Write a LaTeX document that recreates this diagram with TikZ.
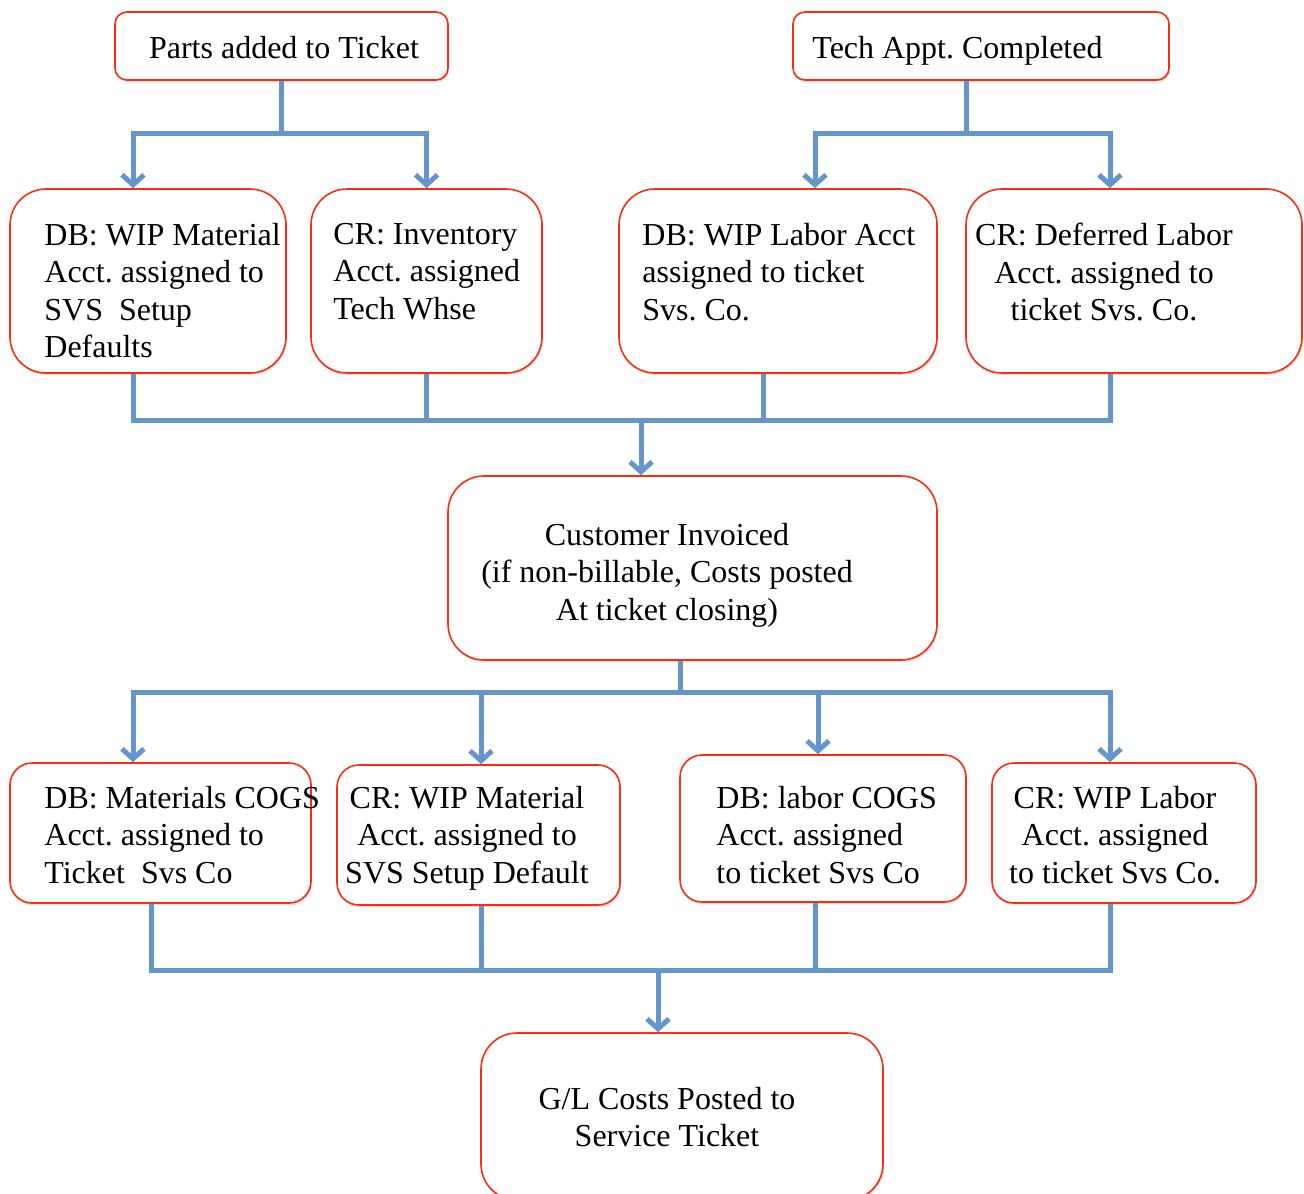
\documentclass[tikz,border=0pt]{standalone}
\usepackage{fontspec}
\setmainfont{Liberation Serif}
\usetikzlibrary{arrows.meta,shadows}
\definecolor{boxred}{RGB}{250,45,15}
\definecolor{linkblue}{RGB}{100,150,205}
\tikzset{
  box/.style={draw=boxred, line width=0.8pt, fill=white, rounded corners=#1, inner sep=0pt,
    drop shadow={shadow xshift=0.6pt, shadow yshift=-1.2pt, opacity=0.3, fill=black!40}},
  box/.default=18pt,
  txt/.style={inner sep=0pt, font=\fontsize{16}{18.8}\selectfont\frenchspacing},
  link/.style={draw=linkblue, line width=2.5pt},
  arr/.style={link, -{Straight Barb[length=5pt,width=11pt]}}
}
\begin{document}
\begin{tikzpicture}[x=0.5pt,y=-0.5pt]
  \useasboundingbox (0,0) rectangle (1304,1193);

  % top row
  \node[box=6pt, minimum width=166.5pt, minimum height=34pt] (parts) at (281.5,46) {};
  \node[box=6pt, minimum width=188pt, minimum height=34pt] (tech) at (981,46) {};
  \node[txt, anchor=north] (partst) at (284,35.5) {Parts added to Ticket};
  \node[txt, anchor=north west] (techt) at (812,35.5) {Tech Appt. Completed};

  % debit / credit on parts and labor
  \node[box, minimum width=138pt, minimum height=92pt] (b1) at (148,281) {};
  \node[box, minimum width=115.5pt, minimum height=92pt] (b2) at (426.5,281) {};
  \node[box, minimum width=159pt, minimum height=92pt] (b3) at (778,281) {};
  \node[box, minimum width=168pt, minimum height=92pt] (b4) at (1134,281) {};
  \node[txt, anchor=north west, align=left] (b1t) at (44,222.5)
    {DB: WIP Material\\Acct. assigned to\\SVS\ \ Setup\\Defaults};
  \node[txt, anchor=north west, align=left] (b2t) at (333,222.5)
    {CR: Inventory\\Acct. assigned\\Tech Whse};
  \node[txt, anchor=north west, align=left] (b3t) at (642,222.5)
    {DB: WIP Labor Acct\\assigned to ticket\\Svs. Co.};
  \node[txt, anchor=north, align=center] (b4t) at (1104,222.5)
    {CR: Deferred Labor\\Acct. assigned to\\ticket Svs. Co.};

  % invoice
  \node[box, minimum width=244.5pt, minimum height=92pt] (inv) at (692.5,568) {};
  \node[txt, anchor=north, align=center] (invt) at (667,522.5)
    {Customer Invoiced\\(if non-billable, Costs posted\\At ticket closing)};

  % debit / credit on invoicing
  \node[box=11pt, minimum width=150.5pt, minimum height=70pt] (c1) at (160.5,833) {};
  \node[box=11pt, minimum width=141.5pt, minimum height=70pt] (c2) at (478.5,835) {};
  \node[box=11pt, minimum width=143pt, minimum height=73.5pt] (c3) at (823,828.5) {};
  \node[box=11pt, minimum width=132pt, minimum height=70pt] (c4) at (1124,833) {};
  \node[txt, anchor=north west, align=left] (c1t) at (44,785.5)
    {DB: Materials COGS\\Acct. assigned to\\Ticket\ \ Svs Co};
  \node[txt, anchor=north, align=center] (c2t) at (467,785.5)
    {CR: WIP Material\\Acct. assigned to\\SVS Setup Default};
  \node[txt, anchor=north west, align=left] (c3t) at (716,785.5)
    {DB: labor COGS\\Acct. assigned\\to ticket Svs Co};
  \node[txt, anchor=north, align=center] (c4t) at (1115,785.5)
    {CR: WIP Labor\\Acct. assigned\\to ticket Svs Co.};

  % G/L
  \node[box, minimum width=201pt, minimum height=83.5pt] (gl) at (682,1116.5) {};
  \node[txt, anchor=north, align=center] (glt) at (667,1086.5)
    {G/L Costs Posted to\\Service Ticket};

  % connectors
  \coordinate (j1) at (281.5,133);
  \coordinate (j2) at (966,133);
  \coordinate (j3) at (641,420);
  \coordinate (j4) at (680,692);
  \coordinate (j5) at (658,970);

  \draw[link] (parts.south) -- (j1);
  \draw[arr] (j1) -| ([xshift=-7.5pt]b1.north);
  \draw[arr] (j1) -| (b2.north);
  \draw[link] ([xshift=-7.5pt]tech.south) -- (j2);
  \draw[arr] (j2) -| ([xshift=18.5pt]b3.north);
  \draw[arr] (j2) -| ([xshift=-12pt]b4.north);

  \draw[link] ([xshift=-7.5pt]b1.south) |- (j3);
  \draw[link] (b2.south) |- (j3);
  \draw[link] ([xshift=-7.5pt]b3.south) |- (j3);
  \draw[link] ([xshift=-12pt]b4.south) |- (j3);
  \draw[arr] (j3) -- ([xshift=-25.75pt]inv.north);

  \draw[link] ([xshift=-6.25pt]inv.south) -- (j4);
  \draw[arr] (j4) -| ([xshift=-13.75pt]c1.north);
  \draw[arr] (j4) -| ([xshift=1.25pt]c2.north);
  \draw[arr] (j4) -| ([xshift=-2.5pt]c3.north);
  \draw[arr] (j4) -| ([xshift=-7pt]c4.north);

  \draw[link] ([xshift=-4.75pt]c1.south) |- (j5);
  \draw[link] ([xshift=1.25pt]c2.south) |- (j5);
  \draw[link] ([xshift=-4pt]c3.south) |- (j5);
  \draw[link] ([xshift=-7pt]c4.south) |- (j5);
  \draw[arr] (j5) -- ([xshift=-12pt]gl.north);
\end{tikzpicture}
\end{document}
